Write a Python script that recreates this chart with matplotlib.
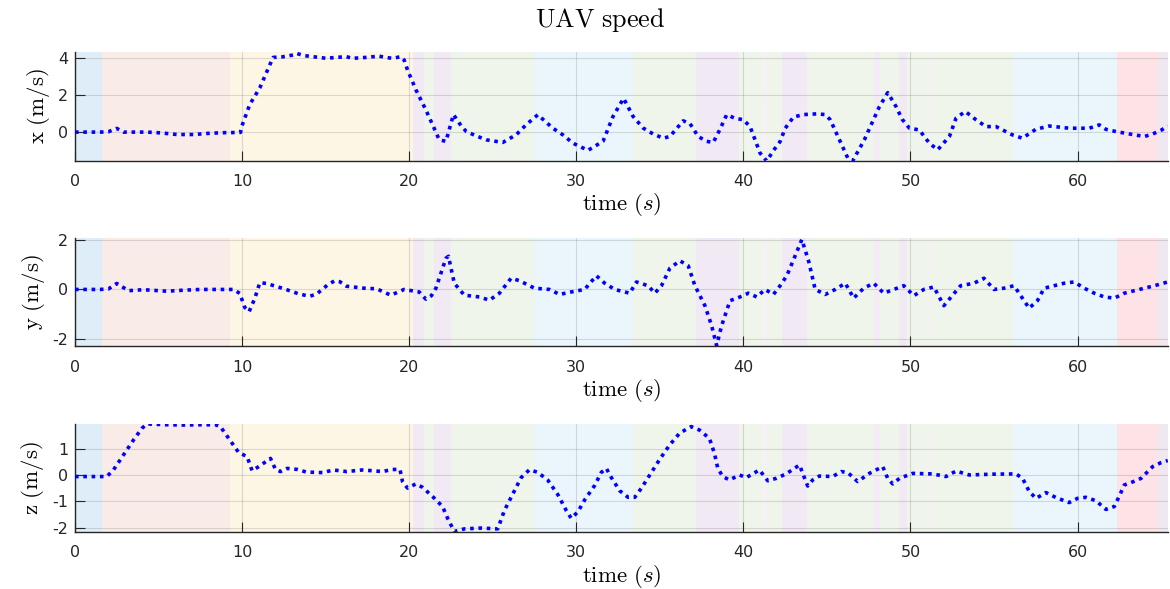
import matplotlib
matplotlib.use("Agg")
import matplotlib.pyplot as plt

plt.rcParams['mathtext.fontset'] = 'cm'
plt.rcParams['axes.unicode_minus'] = False
plt.rcParams['font.family'] = ['DejaVu Sans']

# ---------------- data ----------------
title = "UAV speed"
xlabel_txt = r'$\mathrm{time}\ (s)$'
ylabels = [r'$\mathrm{x\ (m/s)}$', r'$\mathrm{y\ (m/s)}$', r'$\mathrm{z\ (m/s)}$']
xticks = [0, 10, 20, 30, 40, 50, 60]
yticks_x = [0, 2, 4]
yticks_y = [-2, 0, 2]
yticks_z = [-2, -1, 0, 1]

# flight phase bands (start, end, colour)
band_starts = [0.0, 1.61, 9.27, 20.2, 20.87, 21.47, 22.49, 27.45, 33.37, 37.14, 39.71, 41.2, 41.4,
               42.34, 43.78, 47.8, 48.2, 49.3, 49.8, 51.0, 51.15, 56.16, 62.37, 64.82]
band_ends = band_starts[1:] + [65.4]
band_colors = ['#deedf8', '#f9ece8', '#fdf6e5', '#f1e9f3', '#eff5ea', '#f1e9f3', '#eff5ea', '#eaf6fc',
               '#eff5ea', '#f1e9f3', '#eff5ea', '#f6f1f6', '#eff5ea', '#f1e9f3', '#eff5ea', '#f3ecf4',
               '#eff5ea', '#f1e9f3', '#eff5ea', '#f5f2f3', '#eff5ea', '#eaf6fc', '#fee3e6', '#efe8f0']

t_x = [0, 0.5, 1.0, 1.5, 2.0, 2.5, 2.9, 3.5, 4.3, 5.1, 6.1, 7.1, 8.1, 9.0, 9.9, 10.0, 10.46, 11.06, 11.66,
       11.86, 12.4, 13.05, 13.25, 13.7, 14.25, 15.05, 15.6, 16.25, 16.6, 17.4, 18.2, 18.6, 19.0, 19.5, 19.7,
       19.9, 20.4, 21.0, 21.4, 21.8, 22.2, 22.65, 23.1, 23.42, 24.0, 24.62, 25.6, 26.4, 27.0, 27.7, 28.6,
       29.2, 29.8, 30.7, 31.6, 32.2, 32.83, 33.4, 34.0, 34.6, 35.2, 35.6, 36.4, 36.8, 37.3, 37.8, 38.2,
       38.6, 39.0, 39.5, 40.0, 40.4, 41.0, 41.4, 41.8, 42.2, 42.5, 43.0, 43.6, 44.4, 44.9, 45.2, 45.75,
       46.25, 46.55, 47.24, 47.7, 48.14, 48.64, 49.14, 49.5, 49.94, 50.53, 51.13, 51.63, 52.33, 52.73,
       53.28, 53.92, 54.52, 55.12, 56.1, 56.7, 57.5, 58.3, 59.5, 60.7, 61.3, 61.7, 62.3, 63.1, 64.0,
       64.5, 65.0, 65.4]
v_x = [0, 0, 0, 0, 0.02, 0.2, 0.0, 0.0, 0.0, -0.04, -0.13, -0.13, -0.06, -0.03, -0.02, 0.36, 1.5, 2.4,
       3.65, 4.05, 4.08, 4.18, 4.27, 4.15, 4.09, 4.0, 4.05, 4.09, 4.0, 4.05, 4.12, 4.05, 4.0, 4.09, 3.91,
       3.37, 2.3, 1.2, 0.4, -0.42, -0.5, 0.95, 0.35, 0.03, -0.2, -0.42, -0.56, -0.15, 0.4, 0.94, 0.21,
       -0.15, -0.6, -0.99, -0.5, 0.85, 1.83, 0.85, 0.22, -0.1, -0.33, -0.24, 0.61, 0.47, -0.24, -0.5,
       -0.56, 0.15, 0.94, 0.75, 0.67, 0.3, -1.14, -1.57, -1.0, -0.51, 0.2, 0.82, 0.95, 0.99, 0.95, 0.67,
       -0.42, -1.41, -1.55, -0.42, 0.5, 1.38, 2.14, 1.38, 0.7, 0.21, 0.12, -0.6, -0.96, -0.24, 0.76,
       1.12, 0.67, 0.3, 0.3, -0.15, -0.33, 0.15, 0.33, 0.21, 0.21, 0.39, 0.15, 0.03, -0.1, -0.24,
       -0.1, 0.1, 0.33]

t_y = [0, 0.5, 1.0, 1.5, 2.0, 2.5, 3.2, 4.1, 5.5, 6.5, 7.5, 8.5, 9.5, 9.86, 10.16, 10.42, 10.76, 11.06,
       11.46, 12.45, 13.45, 14.05, 14.45, 15.15, 15.55, 15.85, 16.25, 17.44, 18.04, 18.9, 19.7, 20.6,
       21.0, 21.33, 21.6, 21.9, 22.2, 22.35, 22.7, 23.3, 24.2, 24.8, 25.4, 26.1, 26.6, 27.5, 28.4, 29.0,
       29.7, 30.5, 31.2, 31.7, 32.3, 33.2, 33.6, 34.3, 34.7, 35.1, 35.6, 36.2, 36.7, 37.1, 37.7, 38.1,
       38.4, 38.7, 39.2, 39.8, 40.3, 40.8, 41.3, 41.8, 42.2, 42.6, 43.1, 43.5, 43.9, 44.3, 44.9, 45.5,
       46.1, 46.6, 47.2, 47.8, 48.4, 49.0, 49.6, 50.2, 50.8, 51.4, 52.0, 52.5, 53.0, 53.8, 54.4, 55.0,
       55.6, 56.2, 56.6, 57.1, 57.6, 58.0, 58.6, 59.2, 59.8, 60.4, 61.0, 61.6, 62.2, 62.8, 63.7, 64.6,
       65.4]
v_y = [0, 0, 0, 0, 0.02, 0.24, -0.05, -0.01, -0.07, -0.03, 0, 0, 0, -0.16, -0.72, -0.89, -0.36, 0.27,
       0.24, 0.04, -0.19, -0.27, -0.19, 0.2, 0.35, 0.31, 0.13, 0.04, 0.03, -0.23, 0, -0.1, -0.39, -0.25,
       0.05, 0.65, 1.25, 1.33, 0.25, -0.23, -0.3, -0.43, -0.15, 0.45, 0.35, 0.05, 0, -0.2, -0.1, 0, 0.55,
       0.25, 0, -0.15, 0.3, 0.15, -0.15, 0.15, 0.85, 1.15, 0.95, 0.15, -0.65, -1.45, -2.25, -1.45, -0.45,
       -0.3, -0.15, -0.3, 0, -0.2, 0.15, 0.55, 1.35, 2.0, 1.15, 0, -0.2, 0, 0.25, -0.35, 0.05, 0.25,
       -0.15, 0, 0.15, -0.25, 0, 0.1, -0.65, -0.25, 0.15, 0.25, 0.45, 0, 0.05, 0.15, -0.25, -0.75, -0.45,
       0.05, 0.15, 0.25, 0.3, 0.05, -0.15, -0.3, -0.35, -0.15, 0, 0.15, 0.3]

t_z = [0, 0.5, 1.0, 1.5, 1.9, 2.3, 2.9, 3.5, 4.0, 4.3, 5.5, 6.5, 7.5, 8.4, 8.7, 9.3, 9.8, 10.3, 10.6,
       11.0, 11.7, 12.0, 12.3, 12.7, 13.3, 13.85, 14.85, 15.45, 16.25, 17.2, 18.4, 19.0, 19.45, 19.6, 19.9,
       20.4, 20.8, 21.4, 22.0, 22.3, 22.7, 23.3, 24.3, 25.3, 25.7, 26.3, 26.7, 27.2, 27.7, 28.3, 28.9,
       29.4, 29.7, 30.1, 30.5, 31.1, 31.5, 31.8, 32.1, 32.6, 33.1, 33.5, 33.9, 34.4, 35.0, 35.6, 36.2,
       36.88, 37.37, 37.97, 38.27, 38.47, 38.77, 39.17, 39.77, 40.17, 40.96, 41.46, 41.96, 42.56, 43.36,
       43.55, 43.85, 44.15, 44.55, 45.35, 45.85, 46.25, 46.84, 47.54, 48.34, 48.64, 48.94, 49.34, 50.13,
       51.33, 52.13, 52.73, 53.52, 54.92, 56.32, 56.71, 57.11, 57.51, 58.11, 58.71, 59.5, 60.0, 60.5,
       61.1, 61.7, 62.2, 62.5, 62.8, 63.2, 63.8, 64.5, 65.0, 65.4]
v_z = [-0.06, -0.06, -0.06, -0.06, -0.06, 0.19, 0.76, 1.33, 1.77, 1.94, 1.91, 1.9, 1.91, 1.91, 1.84,
       1.3, 0.85, 0.7, 0.16, 0.32, 0.63, 0.21, 0.13, 0.25, 0.21, 0.11, 0.09, 0.19, 0.13, 0.19, 0.13, 0.21,
       0.21, -0.25, -0.5, -0.34, -0.47, -0.82, -1.2, -1.65, -2.15, -2.05, -2.02, -2.05, -1.35, -0.6,
       -0.1, 0.2, 0.1, -0.2, -0.75, -1.35, -1.65, -1.4, -0.95, -0.4, 0.1, 0.25, -0.1, -0.6, -0.85, -0.85,
       -0.5, 0.0, 0.6, 1.15, 1.6, 1.84, 1.71, 1.39, 0.82, 0.25, -0.06, -0.19, 0.0, -0.1, 0.19, -0.22,
       -0.13, 0.04, 0.38, 0.06, -0.42, -0.19, -0.04, -0.06, 0.13, 0.09, -0.25, 0.06, 0.32, -0.13, -0.34,
       -0.13, 0.06, 0.04, -0.06, 0.15, 0.0, 0.03, 0.04, -0.13, -0.63, -0.89, -0.67, -0.86, -1.05, -0.89,
       -0.85, -0.98, -1.31, -1.2, -0.8, -0.38, -0.29, -0.13, 0.32, 0.47, 0.55]

ylims = [(-1.55, 4.36), (-2.28, 2.05), (-2.18, 1.94)]
xlim = (0, 65.4)

# ---------------- figure ----------------
fig = plt.figure(figsize=(11.70, 5.89), dpi=100)
rects = [[0.0641, 0.7272, 0.934, 0.185],
         [0.0641, 0.4120, 0.934, 0.1834],
         [0.0641, 0.0963, 0.934, 0.1839]]
series = [(t_x, v_x, yticks_x), (t_y, v_y, yticks_y), (t_z, v_z, yticks_z)]
axcol = '#262626'

for i, (rect, (tt, vv, yt)) in enumerate(zip(rects, series)):
    ax = fig.add_axes(rect)
    for s, e, c in zip(band_starts, band_ends, band_colors):
        ax.axvspan(s, e, color=c, lw=0, zorder=0.1)
    ax.plot(tt, vv, color='#0000ff', lw=2.6, linestyle=(0, (1, 1.3)), zorder=3)
    ax.set_xlim(*xlim)
    ax.set_ylim(*ylims[i])
    ax.set_xticks(xticks)
    ax.set_yticks(yt)
    ax.grid(True, color='#262626', alpha=0.15, lw=0.8)
    ax.set_axisbelow(True)
    for sp in ['top', 'right']:
        ax.spines[sp].set_visible(False)
    for sp in ['left', 'bottom']:
        ax.spines[sp].set_color(axcol)
        ax.spines[sp].set_linewidth(1.0)
    ax.tick_params(direction='in', length=7, width=0.8, colors=axcol, labelsize=11.5)
    ax.tick_params(axis='x', pad=9.5)
    ax.tick_params(axis='y', pad=5)
    ax.set_xlabel(xlabel_txt, fontsize=16.5, labelpad=1.5)
    ax.set_ylabel(ylabels[i], fontsize=16.5, labelpad=4)

fig.text(0.513, 0.966, r'$\mathrm{UAV\ speed}$', ha='center', va='center', fontsize=18.8)

fig.savefig('out.png', dpi=100)
